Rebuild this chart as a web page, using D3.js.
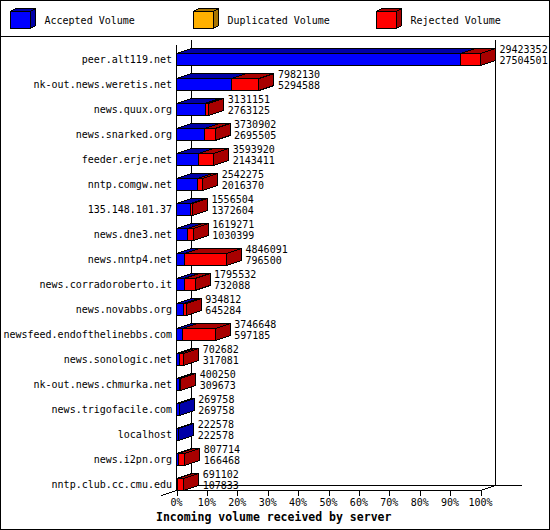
<!DOCTYPE html>
<html>
<head>
<meta charset="utf-8">
<script src="https://d3js.org/d3.v7.min.js"></script>
<style>
  body { margin: 0; background: #fff; }
  text { font-family: "DejaVu Sans Mono", monospace; font-size: 10px; fill: #000; }
  rect, line, polygon { shape-rendering: crispEdges; }
</style>
</head>
<body>
<div id="chart"></div>
<script>
// servers, top to bottom
const hosts = [
  "peer.alt119.net", "nk-out.news.weretis.net", "news.quux.org", "news.snarked.org",
  "feeder.erje.net", "nntp.comgw.net", "135.148.101.37", "news.dne3.net",
  "news.nntp4.net", "news.corradoroberto.it", "news.novabbs.org",
  "newsfeed.endofthelinebbs.com", "news.sonologic.net", "nk-out.news.chmurka.net",
  "news.trigofacile.com", "localhost", "news.i2pn.org", "nntp.club.cc.cmu.edu"
];
// total incoming volume (upper number)
const totals = [
  29423352, 7982130, 3131151, 3730902, 3593920, 2542275, 1556504, 1619271,
  4846091, 1795532, 934812, 3746648, 702682, 400250, 269758, 222578, 807714, 691102
];
// accepted volume (lower number)
const accepted = [
  27504501, 5294588, 2763125, 2695505, 2143411, 2016370, 1372604, 1030399,
  796500, 732088, 645284, 597185, 317081, 309673, 269758, 222578, 166468, 107833
];
const legendLabels = ["Accepted Volume", "Duplicated Volume", "Rejected Volume"];
const tickValues = [0, 0.1, 0.2, 0.3, 0.4, 0.5, 0.6, 0.7, 0.8, 0.9, 1];
const xTitle = "Incoming volume received by server";

const colors = {
  accepted: ["#0000ff", "#0000a8"],
  duplicated: ["#ffb000", "#a87400"],
  rejected: ["#ff0000", "#a80000"]
};

const width = 550, height = 530;
const depthX = 15, depthY = 5;

const svg = d3.select("#chart").append("svg")
  .attr("width", width)
  .attr("height", height);

// frame + legend box
svg.append("rect")
  .attr("x", 0.5).attr("y", 0.5)
  .attr("width", width - 1).attr("height", height - 1)
  .attr("fill", "#fff").attr("stroke", "#000");
svg.append("line")
  .attr("x1", 0).attr("x2", width)
  .attr("y1", 36.5).attr("y2", 36.5)
  .attr("stroke", "#000");

// legend cubes
const legendKeys = ["accepted", "duplicated", "rejected"];
const legend = svg.selectAll("g.legend")
  .data(legendKeys)
  .enter().append("g")
  .attr("class", "legend")
  .attr("transform", (d, i) => `translate(${10.5 + i * 183},11.5)`);

legend.append("polygon")
  .attr("points", "20,0 25,-3 25,14 20,17")
  .attr("fill", d => colors[d][1]).attr("stroke", "#000");
legend.append("polygon")
  .attr("points", "0,0 5,-3 25,-3 20,0")
  .attr("fill", d => colors[d][1]).attr("stroke", "#000");
legend.append("rect")
  .attr("width", 20).attr("height", 17)
  .attr("fill", d => colors[d][0]).attr("stroke", "#000");
legend.append("text")
  .attr("x", 34).attr("y", 12.5)
  .text((d, i) => legendLabels[i]);

// scales
const maxTotal = d3.max(totals);
const x = d3.scaleLinear().domain([0, 1]).range([176.5, 480.5]);
const y = d3.scalePoint().domain(hosts).range([59, 484]);

// 3D back walls
const axisG = svg.append("g").attr("stroke", "#000").attr("fill", "none");
axisG.append("line").attr("x1", 191.5).attr("x2", 191.5).attr("y1", 40).attr("y2", 485.5);
axisG.append("line").attr("x1", 495.5).attr("x2", 495.5).attr("y1", 40).attr("y2", 485.5);
axisG.append("line").attr("x1", 191.5).attr("x2", 522).attr("y1", 485.5).attr("y2", 485.5);
axisG.append("line").attr("x1", 161.5).attr("x2", 191.5).attr("y1", 495.5).attr("y2", 485.5);
axisG.append("line").attr("x1", x(1)).attr("x2", x(1) + depthX).attr("y1", 490.5).attr("y2", 485.5);
axisG.append("line").attr("x1", x(0)).attr("x2", x(0)).attr("y1", 45).attr("y2", 490.5);
axisG.append("line").attr("x1", x(0)).attr("x2", x(1)).attr("y1", 490.5).attr("y2", 490.5);

// ticks + labels
axisG.selectAll("line.tick")
  .data(tickValues)
  .enter().append("line")
  .attr("class", "tick")
  .attr("x1", d => Math.round(x(d)) + 0.5).attr("x2", d => Math.round(x(d)) + 0.5)
  .attr("y1", 490.5).attr("y2", 495.5);
svg.selectAll("text.tickLabel")
  .data(tickValues)
  .enter().append("text")
  .attr("class", "tickLabel")
  .attr("x", d => x(d))
  .attr("y", 505.5)
  .attr("text-anchor", "middle")
  .text(d3.format(".0%"));

svg.append("text")
  .attr("x", 156).attr("y", 521)
  .style("font-weight", "bold").style("font-size", "11.5px")
  .text(xTitle);

// bars
const rows = hosts.map((h, i) => ({
  host: h, total: totals[i], accepted: accepted[i], cy: y(h)
}));

const bar = svg.selectAll("g.bar")
  .data(rows)
  .enter().append("g")
  .attr("class", "bar");

bar.each(function(d) {
  const g = d3.select(this);
  const top = d.cy - 6, bot = d.cy + 6;
  const segs = [
    { key: "accepted", a: 0, b: d.accepted / maxTotal },
    { key: "rejected", a: d.accepted / maxTotal, b: d.total / maxTotal }
  ].filter(s => s.b > s.a);

  segs.forEach(s => {
    const xa = x(s.a), xb = x(s.b);
    g.append("rect")
      .attr("x", xa).attr("y", top + 0.5)
      .attr("width", Math.max(xb - xa, 0.5)).attr("height", 12)
      .attr("fill", colors[s.key][0]).attr("stroke", "#000");
    g.append("polygon")
      .attr("points", [[xa, top + 0.5], [xb, top + 0.5],
        [xb + depthX, top + 0.5 - depthY], [xa + depthX, top + 0.5 - depthY]].join(" "))
      .attr("fill", colors[s.key][1]).attr("stroke", "#000");
  });

  const last = segs[segs.length - 1];
  const xe = x(d.total / maxTotal);
  g.append("polygon")
    .attr("points", [[xe, top + 0.5], [xe + depthX, top + 0.5 - depthY],
      [xe + depthX, bot + 0.5 - depthY], [xe, bot + 0.5]].join(" "))
    .attr("fill", colors[last.key][1]).attr("stroke", "#000");

  g.append("text")
    .attr("x", xe + depthX + 4).attr("y", d.cy - 6)
    .text(d.total);
  g.append("text")
    .attr("x", xe + depthX + 4).attr("y", d.cy + 5)
    .text(d.accepted);
});

// host labels
svg.selectAll("text.host")
  .data(rows)
  .enter().append("text")
  .attr("class", "host")
  .attr("x", 172)
  .attr("y", d => d.cy + 3.5)
  .attr("text-anchor", "end")
  .text(d => d.host);
</script>
</body>
</html>
